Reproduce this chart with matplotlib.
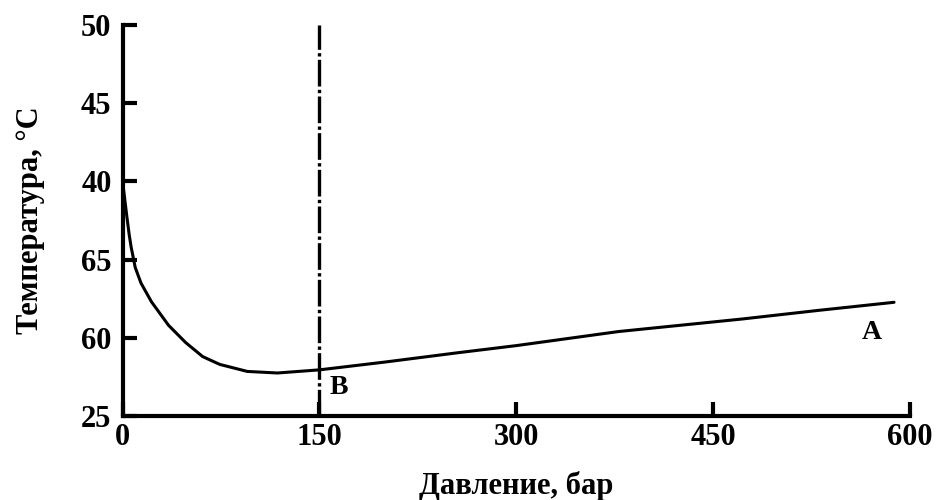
import matplotlib.pyplot as plt

plt.rcParams['font.family'] = ['Liberation Serif', 'DejaVu Serif']
plt.rcParams['font.weight'] = 'bold'

# curve
pressure = [0, 1, 2, 3.3, 5, 6.5, 9.6, 14, 22, 35, 48, 61, 74, 95, 118, 150,
            200, 256, 300, 378, 472, 530, 588]
temperature = [39.9, 39.3, 38.6, 37.7, 36.6, 35.8, 34.5, 33.5, 32.3, 30.8, 29.7, 28.8, 28.3, 27.85, 27.75, 27.95,
               28.45, 29.05, 29.5, 30.4, 31.2, 31.75, 32.27]

x_ticks = [0, 150, 300, 450, 600]
y_ticks = [25, 30, 35, 40, 45, 50]
y_labels = ['25', '60', '65', '40', '45', '50']
b_pressure = 150

fig = plt.figure(figsize=(9.36, 5), dpi=100)
ax = fig.add_axes([0.131, 0.168, 0.841, 0.782])

ax.plot(pressure, temperature, color='black', lw=2.2, solid_capstyle='round',
        solid_joinstyle='round')
ax.axvline(b_pressure, color='black', lw=2.4, linestyle=(0, (8, 1.0, 1.0, 1.0)))

ax.text(158, 26.8, 'B', fontsize=20, fontweight='bold', ha='left', va='center')
ax.text(571, 30.35, 'A', fontsize=20, fontweight='bold', ha='center', va='center')

ax.set_xlim(0, 600)
ax.set_ylim(25, 50)
ax.set_xticks(x_ticks)
ax.set_yticks(y_ticks)
ax.set_yticklabels(y_labels)
ax.tick_params(direction='in', length=10, width=3, labelsize=22, color='black')
ax.tick_params(axis='y', pad=8)
ax.tick_params(axis='x', pad=5)

for s in ['top', 'right']:
    ax.spines[s].set_visible(False)
for s in ['left', 'bottom']:
    ax.spines[s].set_linewidth(3)

ax.set_xlabel('Давление, бар', fontsize=22, fontweight='bold', labelpad=14)
ax.set_ylabel('Температура, °C', fontsize=22, fontweight='bold', labelpad=26)

fig.savefig('out.png', dpi=100)
